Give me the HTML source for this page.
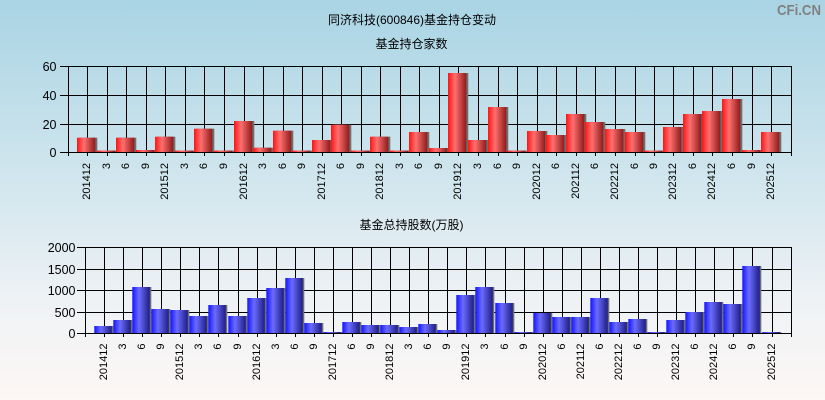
<!DOCTYPE html>
<html><head><meta charset="utf-8"><style>
html,body{margin:0;padding:0;}
svg{display:block;}
.t{font-family:"Liberation Sans","Noto Sans CJK SC",sans-serif;fill:#000;}
</style></head><body>
<svg width="825" height="400" viewBox="0 0 825 400" xmlns="http://www.w3.org/2000/svg">
<defs>
<linearGradient id="bg" x1="0" y1="0" x2="0" y2="1">
<stop offset="0" stop-color="#a9d4e4"/><stop offset="0.5" stop-color="#d6e8ef"/><stop offset="0.75" stop-color="#eef2f5"/><stop offset="1" stop-color="#fdf7f5"/>
</linearGradient>
<linearGradient id="gr" x1="0" y1="0" x2="1" y2="0">
<stop offset="0" stop-color="#ff1414"/><stop offset="0.38" stop-color="#ff6f6f"/><stop offset="1" stop-color="#8e1b1b"/>
</linearGradient>
<linearGradient id="gb" x1="0" y1="0" x2="1" y2="0">
<stop offset="0" stop-color="#1414ff"/><stop offset="0.38" stop-color="#6b6bff"/><stop offset="1" stop-color="#1e1e86"/>
</linearGradient>
</defs>
<rect x="0" y="0" width="825" height="400" fill="url(#bg)"/>

<text class="t" x="412" y="24" font-size="12" text-anchor="middle">同济科技(600846)基金持仓变动</text>
<text class="t" x="411.5" y="48" font-size="12" text-anchor="middle">基金持仓家数</text>
<text class="t" x="411.5" y="229" font-size="12" text-anchor="middle">基金总持股数(万股)</text>
<text x="821" y="15" font-family="Liberation Sans,sans-serif" font-weight="bold" font-size="15" fill="#808080" text-anchor="end" textLength="44" lengthAdjust="spacingAndGlyphs">CFi.CN</text>

<!-- TOP CHART grid -->
<g stroke="#000" stroke-width="1" fill="none">
<path d="M60 66.5H792M60 95.5H792M60 124.5H792M60 152.5H792"/>
<path d="M68.5 66V156M791.5 66V156M87.5 66V156M107.5 66V156M126.5 66V156M146.5 66V156M165.5 66V156M185.5 66V156M204.5 66V156M224.5 66V156M244.5 66V156M263.5 66V156M283.5 66V156M302.5 66V156M322.5 66V156M341.5 66V156M361.5 66V156M380.5 66V156M400.5 66V156M419.5 66V156M439.5 66V156M458.5 66V156M478.5 66V156M498.5 66V156M517.5 66V156M537.5 66V156M556.5 66V156M576.5 66V156M595.5 66V156M615.5 66V156M635.5 66V156M654.5 66V156M673.5 66V156M693.5 66V156M712.5 66V156M732.5 66V156M752.5 66V156M771.5 66V156"/>
</g>
<g>
<rect x="79" y="137.7" width="18.3" height="14.3" fill="#6e6e6e"/><rect x="77" y="137.7" width="18.3" height="14.3" fill="url(#gr)"/>
<rect x="99" y="150.6" width="18.3" height="1.4" fill="#6e6e6e"/><rect x="97" y="150.6" width="18.3" height="1.4" fill="url(#gr)"/>
<rect x="118" y="137.7" width="18.3" height="14.3" fill="#6e6e6e"/><rect x="116" y="137.7" width="18.3" height="14.3" fill="url(#gr)"/>
<rect x="138" y="150" width="18.3" height="2" fill="#6e6e6e"/><rect x="136" y="150" width="18.3" height="2" fill="url(#gr)"/>
<rect x="157" y="136.7" width="18.3" height="15.3" fill="#6e6e6e"/><rect x="155" y="136.7" width="18.3" height="15.3" fill="url(#gr)"/>
<rect x="177" y="150.6" width="18.3" height="1.4" fill="#6e6e6e"/><rect x="175" y="150.6" width="18.3" height="1.4" fill="url(#gr)"/>
<rect x="196" y="128.7" width="18.3" height="23.3" fill="#6e6e6e"/><rect x="194" y="128.7" width="18.3" height="23.3" fill="url(#gr)"/>
<rect x="216" y="150.6" width="18.3" height="1.4" fill="#6e6e6e"/><rect x="214" y="150.6" width="18.3" height="1.4" fill="url(#gr)"/>
<rect x="236" y="121" width="18.3" height="31" fill="#6e6e6e"/><rect x="234" y="121" width="18.3" height="31" fill="url(#gr)"/>
<rect x="255" y="147.7" width="18.3" height="4.3" fill="#6e6e6e"/><rect x="253" y="147.7" width="18.3" height="4.3" fill="url(#gr)"/>
<rect x="275" y="130.7" width="18.3" height="21.3" fill="#6e6e6e"/><rect x="273" y="130.7" width="18.3" height="21.3" fill="url(#gr)"/>
<rect x="294" y="150.6" width="18.3" height="1.4" fill="#6e6e6e"/><rect x="292" y="150.6" width="18.3" height="1.4" fill="url(#gr)"/>
<rect x="314" y="140" width="18.3" height="12" fill="#6e6e6e"/><rect x="312" y="140" width="18.3" height="12" fill="url(#gr)"/>
<rect x="333" y="124.7" width="18.3" height="27.3" fill="#6e6e6e"/><rect x="331" y="124.7" width="18.3" height="27.3" fill="url(#gr)"/>
<rect x="353" y="150.6" width="18.3" height="1.4" fill="#6e6e6e"/><rect x="351" y="150.6" width="18.3" height="1.4" fill="url(#gr)"/>
<rect x="372" y="136.7" width="18.3" height="15.3" fill="#6e6e6e"/><rect x="370" y="136.7" width="18.3" height="15.3" fill="url(#gr)"/>
<rect x="392" y="150.6" width="18.3" height="1.4" fill="#6e6e6e"/><rect x="390" y="150.6" width="18.3" height="1.4" fill="url(#gr)"/>
<rect x="411" y="132" width="18.3" height="20" fill="#6e6e6e"/><rect x="409" y="132" width="18.3" height="20" fill="url(#gr)"/>
<rect x="431" y="148" width="18.3" height="4" fill="#6e6e6e"/><rect x="429" y="148" width="18.3" height="4" fill="url(#gr)"/>
<rect x="450" y="73" width="18.3" height="79" fill="#6e6e6e"/><rect x="448" y="73" width="18.3" height="79" fill="url(#gr)"/>
<rect x="470" y="140" width="18.3" height="12" fill="#6e6e6e"/><rect x="468" y="140" width="18.3" height="12" fill="url(#gr)"/>
<rect x="490" y="107" width="18.3" height="45" fill="#6e6e6e"/><rect x="488" y="107" width="18.3" height="45" fill="url(#gr)"/>
<rect x="509" y="150.6" width="18.3" height="1.4" fill="#6e6e6e"/><rect x="507" y="150.6" width="18.3" height="1.4" fill="url(#gr)"/>
<rect x="529" y="131" width="18.3" height="21" fill="#6e6e6e"/><rect x="527" y="131" width="18.3" height="21" fill="url(#gr)"/>
<rect x="548" y="135" width="18.3" height="17" fill="#6e6e6e"/><rect x="546" y="135" width="18.3" height="17" fill="url(#gr)"/>
<rect x="568" y="114" width="18.3" height="38" fill="#6e6e6e"/><rect x="566" y="114" width="18.3" height="38" fill="url(#gr)"/>
<rect x="587" y="122" width="18.3" height="30" fill="#6e6e6e"/><rect x="585" y="122" width="18.3" height="30" fill="url(#gr)"/>
<rect x="607" y="129" width="18.3" height="23" fill="#6e6e6e"/><rect x="605" y="129" width="18.3" height="23" fill="url(#gr)"/>
<rect x="627" y="132" width="18.3" height="20" fill="#6e6e6e"/><rect x="625" y="132" width="18.3" height="20" fill="url(#gr)"/>
<rect x="646" y="150.6" width="18.3" height="1.4" fill="#6e6e6e"/><rect x="644" y="150.6" width="18.3" height="1.4" fill="url(#gr)"/>
<rect x="665" y="127" width="18.3" height="25" fill="#6e6e6e"/><rect x="663" y="127" width="18.3" height="25" fill="url(#gr)"/>
<rect x="685" y="114" width="18.3" height="38" fill="#6e6e6e"/><rect x="683" y="114" width="18.3" height="38" fill="url(#gr)"/>
<rect x="704" y="111" width="18.3" height="41" fill="#6e6e6e"/><rect x="702" y="111" width="18.3" height="41" fill="url(#gr)"/>
<rect x="724" y="99" width="18.3" height="53" fill="#6e6e6e"/><rect x="722" y="99" width="18.3" height="53" fill="url(#gr)"/>
<rect x="744" y="150" width="18.3" height="2" fill="#6e6e6e"/><rect x="742" y="150" width="18.3" height="2" fill="url(#gr)"/>
<rect x="763" y="132" width="18.3" height="20" fill="#6e6e6e"/><rect x="761" y="132" width="18.3" height="20" fill="url(#gr)"/>
</g>
<path d="M60 152.5H792" stroke="#000" stroke-width="1"/>

<g class="t" font-size="12.5" text-anchor="end">
<text x="56.5" y="71">60</text><text x="56.5" y="100">40</text><text x="56.5" y="129">20</text><text x="56.5" y="157">0</text>
</g>
<g class="t" font-size="11" text-anchor="end">
<text transform="translate(90,163) rotate(-90)">201412</text>
<text transform="translate(110,163) rotate(-90)">3</text>
<text transform="translate(129,163) rotate(-90)">6</text>
<text transform="translate(149,163) rotate(-90)">9</text>
<text transform="translate(168,163) rotate(-90)">201512</text>
<text transform="translate(188,163) rotate(-90)">3</text>
<text transform="translate(207,163) rotate(-90)">6</text>
<text transform="translate(227,163) rotate(-90)">9</text>
<text transform="translate(247,163) rotate(-90)">201612</text>
<text transform="translate(266,163) rotate(-90)">3</text>
<text transform="translate(286,163) rotate(-90)">6</text>
<text transform="translate(305,163) rotate(-90)">9</text>
<text transform="translate(325,163) rotate(-90)">201712</text>
<text transform="translate(344,163) rotate(-90)">6</text>
<text transform="translate(364,163) rotate(-90)">9</text>
<text transform="translate(383,163) rotate(-90)">201812</text>
<text transform="translate(403,163) rotate(-90)">3</text>
<text transform="translate(422,163) rotate(-90)">6</text>
<text transform="translate(442,163) rotate(-90)">9</text>
<text transform="translate(461,163) rotate(-90)">201912</text>
<text transform="translate(481,163) rotate(-90)">3</text>
<text transform="translate(501,163) rotate(-90)">6</text>
<text transform="translate(520,163) rotate(-90)">9</text>
<text transform="translate(540,163) rotate(-90)">202012</text>
<text transform="translate(559,163) rotate(-90)">6</text>
<text transform="translate(579,163) rotate(-90)">202112</text>
<text transform="translate(598,163) rotate(-90)">6</text>
<text transform="translate(618,163) rotate(-90)">202212</text>
<text transform="translate(638,163) rotate(-90)">6</text>
<text transform="translate(657,163) rotate(-90)">9</text>
<text transform="translate(676,163) rotate(-90)">202312</text>
<text transform="translate(696,163) rotate(-90)">6</text>
<text transform="translate(715,163) rotate(-90)">202412</text>
<text transform="translate(735,163) rotate(-90)">6</text>
<text transform="translate(755,163) rotate(-90)">9</text>
<text transform="translate(774,163) rotate(-90)">202512</text>
</g>

<!-- BOTTOM CHART grid -->
<g stroke="#000" stroke-width="1" fill="none">
<path d="M77 247.5H792M77 269.5H792M77 290.5H792M77 312.5H792M77 333.5H792"/>
<path d="M85.5 247V337M791.5 247V337M104.5 247V337M123.5 247V337M142.5 247V337M161.5 247V337M180.5 247V337M199.5 247V337M218.5 247V337M238.5 247V337M257.5 247V337M276.5 247V337M295.5 247V337M314.5 247V337M333.5 247V337M352.5 247V337M371.5 247V337M390.5 247V337M409.5 247V337M428.5 247V337M447.5 247V337M466.5 247V337M485.5 247V337M505.5 247V337M524.5 247V337M543.5 247V337M562.5 247V337M581.5 247V337M600.5 247V337M619.5 247V337M638.5 247V337M657.5 247V337M676.5 247V337M695.5 247V337M714.5 247V337M733.5 247V337M752.5 247V337M772.5 247V337"/>
</g>
<g>
<rect x="95.8" y="326" width="17.5" height="7" fill="#6e6e6e"/><rect x="94.3" y="326" width="17.5" height="7" fill="url(#gb)"/>
<rect x="114.8" y="320" width="17.5" height="13" fill="#6e6e6e"/><rect x="113.3" y="320" width="17.5" height="13" fill="url(#gb)"/>
<rect x="133.8" y="287" width="17.5" height="46" fill="#6e6e6e"/><rect x="132.3" y="287" width="17.5" height="46" fill="url(#gb)"/>
<rect x="152.8" y="309" width="17.5" height="24" fill="#6e6e6e"/><rect x="151.3" y="309" width="17.5" height="24" fill="url(#gb)"/>
<rect x="171.8" y="310" width="17.5" height="23" fill="#6e6e6e"/><rect x="170.3" y="310" width="17.5" height="23" fill="url(#gb)"/>
<rect x="190.8" y="316" width="17.5" height="17" fill="#6e6e6e"/><rect x="189.3" y="316" width="17.5" height="17" fill="url(#gb)"/>
<rect x="209.8" y="305" width="17.5" height="28" fill="#6e6e6e"/><rect x="208.3" y="305" width="17.5" height="28" fill="url(#gb)"/>
<rect x="229.8" y="316" width="17.5" height="17" fill="#6e6e6e"/><rect x="228.3" y="316" width="17.5" height="17" fill="url(#gb)"/>
<rect x="248.8" y="298" width="17.5" height="35" fill="#6e6e6e"/><rect x="247.3" y="298" width="17.5" height="35" fill="url(#gb)"/>
<rect x="267.8" y="288" width="17.5" height="45" fill="#6e6e6e"/><rect x="266.3" y="288" width="17.5" height="45" fill="url(#gb)"/>
<rect x="286.8" y="278" width="17.5" height="55" fill="#6e6e6e"/><rect x="285.3" y="278" width="17.5" height="55" fill="url(#gb)"/>
<rect x="305.8" y="323" width="17.5" height="10" fill="#6e6e6e"/><rect x="304.3" y="323" width="17.5" height="10" fill="url(#gb)"/>
<rect x="324.8" y="332" width="17.5" height="1" fill="#6e6e6e"/><rect x="323.3" y="332" width="17.5" height="1" fill="url(#gb)"/>
<rect x="343.8" y="322" width="17.5" height="11" fill="#6e6e6e"/><rect x="342.3" y="322" width="17.5" height="11" fill="url(#gb)"/>
<rect x="362.8" y="325" width="17.5" height="8" fill="#6e6e6e"/><rect x="361.3" y="325" width="17.5" height="8" fill="url(#gb)"/>
<rect x="381.8" y="325" width="17.5" height="8" fill="#6e6e6e"/><rect x="380.3" y="325" width="17.5" height="8" fill="url(#gb)"/>
<rect x="400.8" y="327" width="17.5" height="6" fill="#6e6e6e"/><rect x="399.3" y="327" width="17.5" height="6" fill="url(#gb)"/>
<rect x="419.8" y="324" width="17.5" height="9" fill="#6e6e6e"/><rect x="418.3" y="324" width="17.5" height="9" fill="url(#gb)"/>
<rect x="438.8" y="330" width="17.5" height="3" fill="#6e6e6e"/><rect x="437.3" y="330" width="17.5" height="3" fill="url(#gb)"/>
<rect x="457.8" y="295" width="17.5" height="38" fill="#6e6e6e"/><rect x="456.3" y="295" width="17.5" height="38" fill="url(#gb)"/>
<rect x="476.8" y="287" width="17.5" height="46" fill="#6e6e6e"/><rect x="475.3" y="287" width="17.5" height="46" fill="url(#gb)"/>
<rect x="496.8" y="303" width="17.5" height="30" fill="#6e6e6e"/><rect x="495.3" y="303" width="17.5" height="30" fill="url(#gb)"/>
<rect x="515.8" y="332" width="17.5" height="1" fill="#6e6e6e"/><rect x="514.3" y="332" width="17.5" height="1" fill="url(#gb)"/>
<rect x="534.8" y="313" width="17.5" height="20" fill="#6e6e6e"/><rect x="533.3" y="313" width="17.5" height="20" fill="url(#gb)"/>
<rect x="553.8" y="317" width="17.5" height="16" fill="#6e6e6e"/><rect x="552.3" y="317" width="17.5" height="16" fill="url(#gb)"/>
<rect x="572.8" y="317" width="17.5" height="16" fill="#6e6e6e"/><rect x="571.3" y="317" width="17.5" height="16" fill="url(#gb)"/>
<rect x="591.8" y="298" width="17.5" height="35" fill="#6e6e6e"/><rect x="590.3" y="298" width="17.5" height="35" fill="url(#gb)"/>
<rect x="610.8" y="322" width="17.5" height="11" fill="#6e6e6e"/><rect x="609.3" y="322" width="17.5" height="11" fill="url(#gb)"/>
<rect x="629.8" y="319" width="17.5" height="14" fill="#6e6e6e"/><rect x="628.3" y="319" width="17.5" height="14" fill="url(#gb)"/>
<rect x="648.8" y="332" width="17.5" height="1" fill="#6e6e6e"/><rect x="647.3" y="332" width="17.5" height="1" fill="url(#gb)"/>
<rect x="667.8" y="320" width="17.5" height="13" fill="#6e6e6e"/><rect x="666.3" y="320" width="17.5" height="13" fill="url(#gb)"/>
<rect x="686.8" y="312" width="17.5" height="21" fill="#6e6e6e"/><rect x="685.3" y="312" width="17.5" height="21" fill="url(#gb)"/>
<rect x="705.8" y="302" width="17.5" height="31" fill="#6e6e6e"/><rect x="704.3" y="302" width="17.5" height="31" fill="url(#gb)"/>
<rect x="724.8" y="304" width="17.5" height="29" fill="#6e6e6e"/><rect x="723.3" y="304" width="17.5" height="29" fill="url(#gb)"/>
<rect x="743.8" y="266" width="17.5" height="67" fill="#6e6e6e"/><rect x="742.3" y="266" width="17.5" height="67" fill="url(#gb)"/>
<rect x="763.8" y="332" width="17.5" height="1" fill="#6e6e6e"/><rect x="762.3" y="332" width="17.5" height="1" fill="url(#gb)"/>
</g>
<path d="M77 333.5H792" stroke="#000" stroke-width="1"/>

<g class="t" font-size="12.5" text-anchor="end">
<text x="75.5" y="252">2000</text><text x="75.5" y="274">1500</text><text x="75.5" y="295">1000</text><text x="75.5" y="317">500</text><text x="75.5" y="338">0</text>
</g>
<g class="t" font-size="11" text-anchor="end">
<text transform="translate(107,343.5) rotate(-90)">201412</text>
<text transform="translate(126,343.5) rotate(-90)">3</text>
<text transform="translate(145,343.5) rotate(-90)">6</text>
<text transform="translate(164,343.5) rotate(-90)">9</text>
<text transform="translate(183,343.5) rotate(-90)">201512</text>
<text transform="translate(202,343.5) rotate(-90)">3</text>
<text transform="translate(221,343.5) rotate(-90)">6</text>
<text transform="translate(241,343.5) rotate(-90)">9</text>
<text transform="translate(260,343.5) rotate(-90)">201612</text>
<text transform="translate(279,343.5) rotate(-90)">3</text>
<text transform="translate(298,343.5) rotate(-90)">6</text>
<text transform="translate(317,343.5) rotate(-90)">9</text>
<text transform="translate(336,343.5) rotate(-90)">201712</text>
<text transform="translate(355,343.5) rotate(-90)">6</text>
<text transform="translate(374,343.5) rotate(-90)">9</text>
<text transform="translate(393,343.5) rotate(-90)">201812</text>
<text transform="translate(412,343.5) rotate(-90)">3</text>
<text transform="translate(431,343.5) rotate(-90)">6</text>
<text transform="translate(450,343.5) rotate(-90)">9</text>
<text transform="translate(469,343.5) rotate(-90)">201912</text>
<text transform="translate(488,343.5) rotate(-90)">3</text>
<text transform="translate(508,343.5) rotate(-90)">6</text>
<text transform="translate(527,343.5) rotate(-90)">9</text>
<text transform="translate(546,343.5) rotate(-90)">202012</text>
<text transform="translate(565,343.5) rotate(-90)">6</text>
<text transform="translate(584,343.5) rotate(-90)">202112</text>
<text transform="translate(603,343.5) rotate(-90)">6</text>
<text transform="translate(622,343.5) rotate(-90)">202212</text>
<text transform="translate(641,343.5) rotate(-90)">6</text>
<text transform="translate(660,343.5) rotate(-90)">9</text>
<text transform="translate(679,343.5) rotate(-90)">202312</text>
<text transform="translate(698,343.5) rotate(-90)">6</text>
<text transform="translate(717,343.5) rotate(-90)">202412</text>
<text transform="translate(736,343.5) rotate(-90)">6</text>
<text transform="translate(755,343.5) rotate(-90)">9</text>
<text transform="translate(775,343.5) rotate(-90)">202512</text>
</g>
</svg>
</body></html>
